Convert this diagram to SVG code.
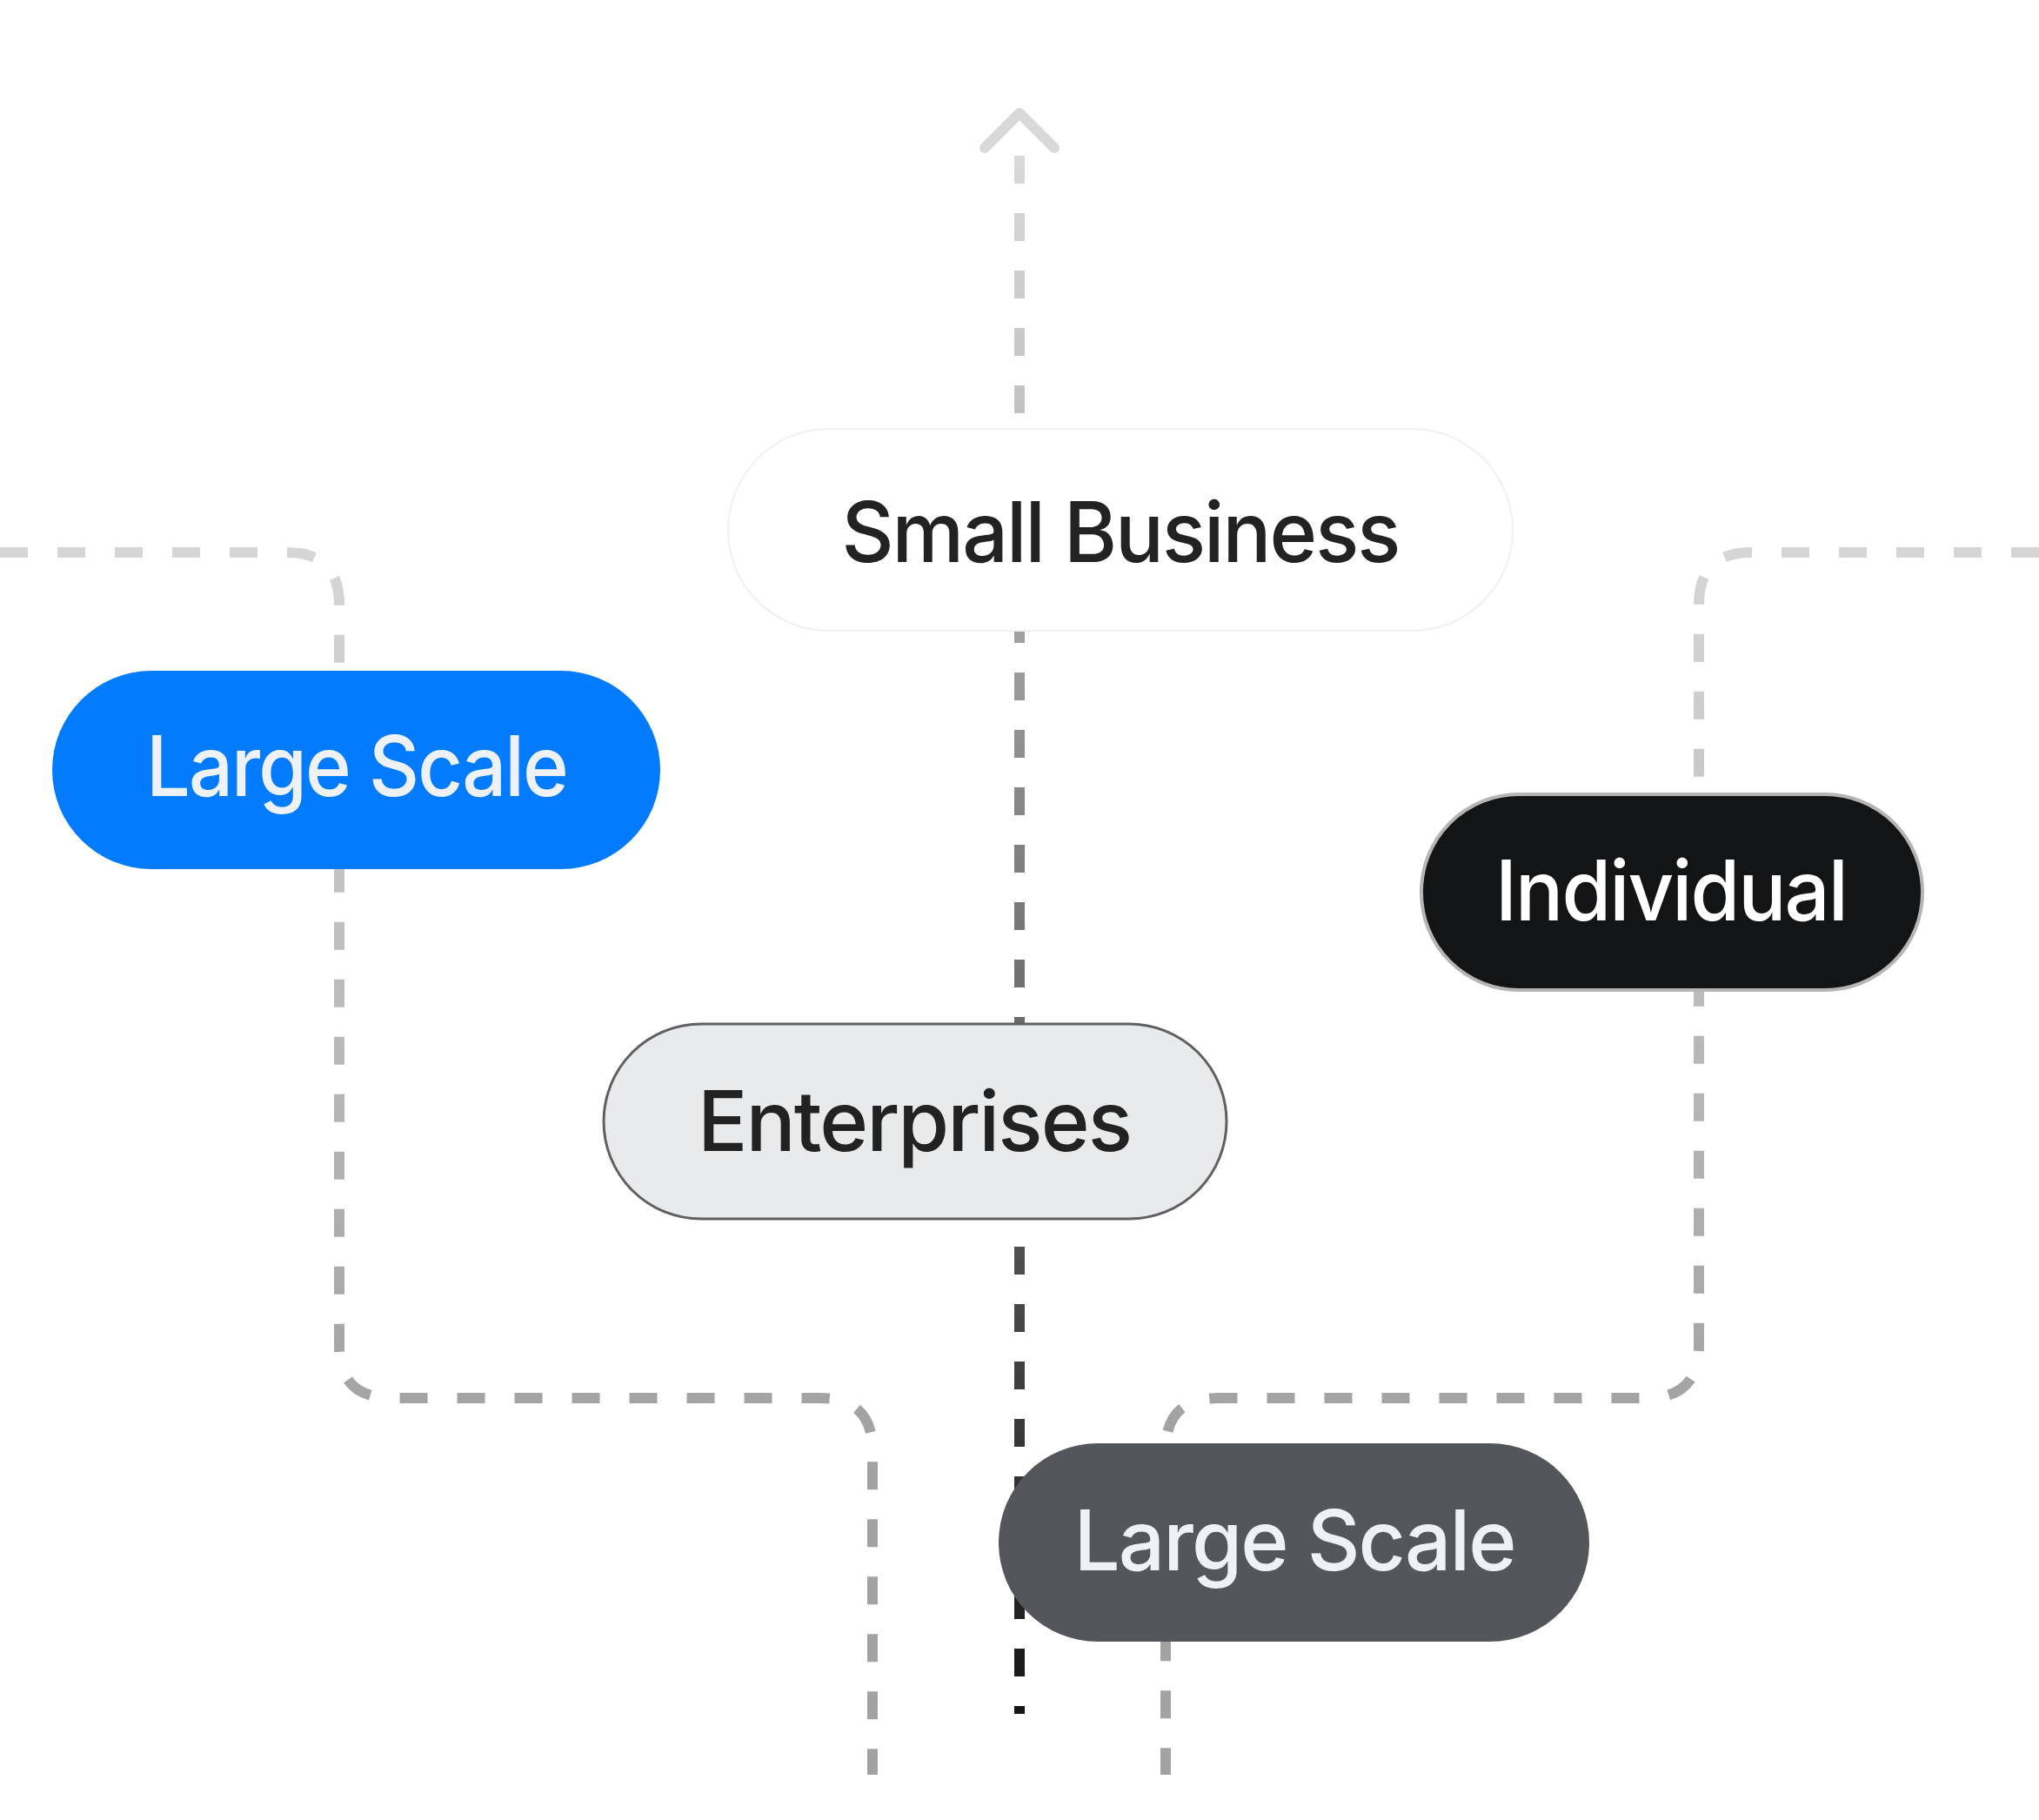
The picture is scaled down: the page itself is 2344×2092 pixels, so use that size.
<svg xmlns="http://www.w3.org/2000/svg" width="2344" height="2092" viewBox="0 0 2344 2092">
<style>
.c{fill:none;stroke-width:12;stroke-dasharray:32 34}
.t{font-family:Inter,"Noto Sans","Liberation Sans",sans-serif;font-weight:500;font-size:96px;text-anchor:middle;letter-spacing:-2px}
</style>
<defs>
<linearGradient id="gs" gradientUnits="userSpaceOnUse" x1="0" y1="635" x2="0" y2="1620"><stop offset="0" stop-color="#d6d6d6"/><stop offset="1" stop-color="#a3a3a3"/></linearGradient>
<linearGradient id="gc" gradientUnits="userSpaceOnUse" x1="0" y1="179" x2="0" y2="1970"><stop offset="0" stop-color="#d9d9d9"/><stop offset="0.2" stop-color="#bdbdbd"/><stop offset="0.4" stop-color="#8a8a8a"/><stop offset="1" stop-color="#151515"/></linearGradient>
</defs>
<g id="connectors">
<path class="c" stroke="url(#gs)" d="M0 635 H330 Q390 635 390 695 V1547 Q390 1607 450 1607 H943 Q1003 1607 1003 1667 V2040"/>
<path class="c" stroke="url(#gs)" d="M2344 635 H2013 Q1953 635 1953 695 V1547 Q1953 1607 1893 1607 H1400 Q1340 1607 1340 1667 V2040"/>
<path class="c" stroke="url(#gc)" d="M1172 179 V1970"/>
<path d="M1132 170 L1172 130 L1212 170" fill="none" stroke="#d9d9d9" stroke-width="12" stroke-linecap="round" stroke-linejoin="round"/>
</g>
<g id="small-business">
<rect x="837" y="493" width="902" height="232" rx="116" fill="#fff" stroke="#f0f0f0" stroke-width="2"/>
<text class="t" x="1288" y="646" fill="#222" textLength="641" lengthAdjust="spacingAndGlyphs">Small Business</text>
</g>
<g id="large-scale-left">
<rect x="60" y="771" width="699" height="228" rx="114" fill="#027bff"/>
<text class="t" x="410" y="915" fill="#eef2f6" textLength="484" lengthAdjust="spacingAndGlyphs">Large Scale</text>
</g>
<g id="individual">
<rect x="1634" y="913" width="576" height="225" rx="112" fill="#131416" stroke="#b5b5b5" stroke-width="4"/>
<text class="t" x="1921" y="1058" fill="#fff" textLength="404" lengthAdjust="spacingAndGlyphs">Individual</text>
</g>
<g id="enterprises">
<rect x="694" y="1177" width="716" height="224" rx="112" fill="#e9eaec" stroke="#5f6063" stroke-width="3"/>
<text class="t" x="1051" y="1323" fill="#222" textLength="498" lengthAdjust="spacingAndGlyphs">Enterprises</text>
</g>
<g id="large-scale-bottom">
<rect x="1148" y="1659" width="679" height="228" rx="114" fill="#53575b"/>
<text class="t" x="1488" y="1805" fill="#eef2f6" textLength="507" lengthAdjust="spacingAndGlyphs">Large Scale</text>
</g>
</svg>
